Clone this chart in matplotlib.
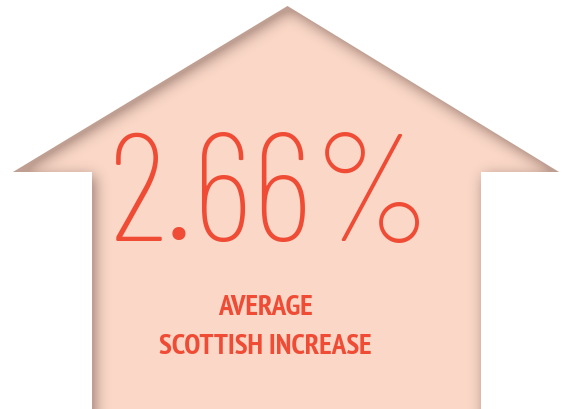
import numpy as np
import matplotlib
matplotlib.use("Agg")
import matplotlib.pyplot as plt
from matplotlib.patches import Polygon
from matplotlib.path import Path

# ---- data ----
increase_pct = 2.66
label_lines = ["AVERAGE", "SCOTTISH INCREASE"]

# ---- style ----
W, H = 568, 410
fill_col = "#FAD7C7"
text_col = "#EF4B35"
# house outline in pixel coords (y down)
house = [(287.5, 7), (559, 173), (481, 173), (481, 415),
         (92, 415), (92, 173), (13, 173)]


def gauss_blur(img, sigma):
    r = int(3 * sigma)
    k = np.exp(-0.5 * (np.arange(-r, r + 1) / sigma) ** 2)
    k /= k.sum()
    pad = np.pad(img, r, mode="edge")
    tmp = np.apply_along_axis(lambda v: np.convolve(v, k, mode="valid"), 1, pad)
    return np.apply_along_axis(lambda v: np.convolve(v, k, mode="valid"), 0, tmp)


fig = plt.figure(figsize=(W / 100, H / 100), dpi=100)
ax = fig.add_axes([0, 0, 1, 1])
ax.set_xlim(0, W)
ax.set_ylim(H, 0)
ax.axis("off")

patch = Polygon(house, closed=True, facecolor=fill_col, edgecolor="none")
ax.add_patch(patch)

# inner shadow: outside region shifted down-right, blurred, kept inside
xs, ys = np.meshgrid(np.arange(W) + 0.5, np.arange(H) + 0.5)
inside = Path(house).contains_points(np.c_[xs.ravel(), ys.ravel()]).reshape(H, W)
outside = (~inside).astype(float)
dx, dy = 3, 4
shifted = np.ones_like(outside)
shifted[dy:, dx:] = outside[:-dy, :-dx]
shade = gauss_blur(shifted, 7.0)
alpha = np.clip(shade * 0.55, 0, 0.33)
rgba = np.zeros((H, W, 4))
rgba[..., 0] = 0.28
rgba[..., 1] = 0.18
rgba[..., 2] = 0.15
rgba[..., 3] = alpha
im = ax.imshow(rgba, extent=(0, W, H, 0), interpolation="bilinear", zorder=2)
im.set_clip_path(patch)

# big number
ax.text(271, 241, f"{increase_pct:.2f}%", family="Barlow Condensed", fontweight=100,
        fontsize=110, color=text_col, ha="center", va="baseline", zorder=3)

# caption
ax.text(265, 315, label_lines[0], family="PT Sans Narrow", fontweight="bold",
        fontsize=21, color=text_col, ha="center", va="baseline", zorder=3)
ax.text(265, 354, label_lines[1], family="PT Sans Narrow", fontweight="bold",
        fontsize=21, color=text_col, ha="center", va="baseline", zorder=3)

fig.savefig("out.png", dpi=100)
